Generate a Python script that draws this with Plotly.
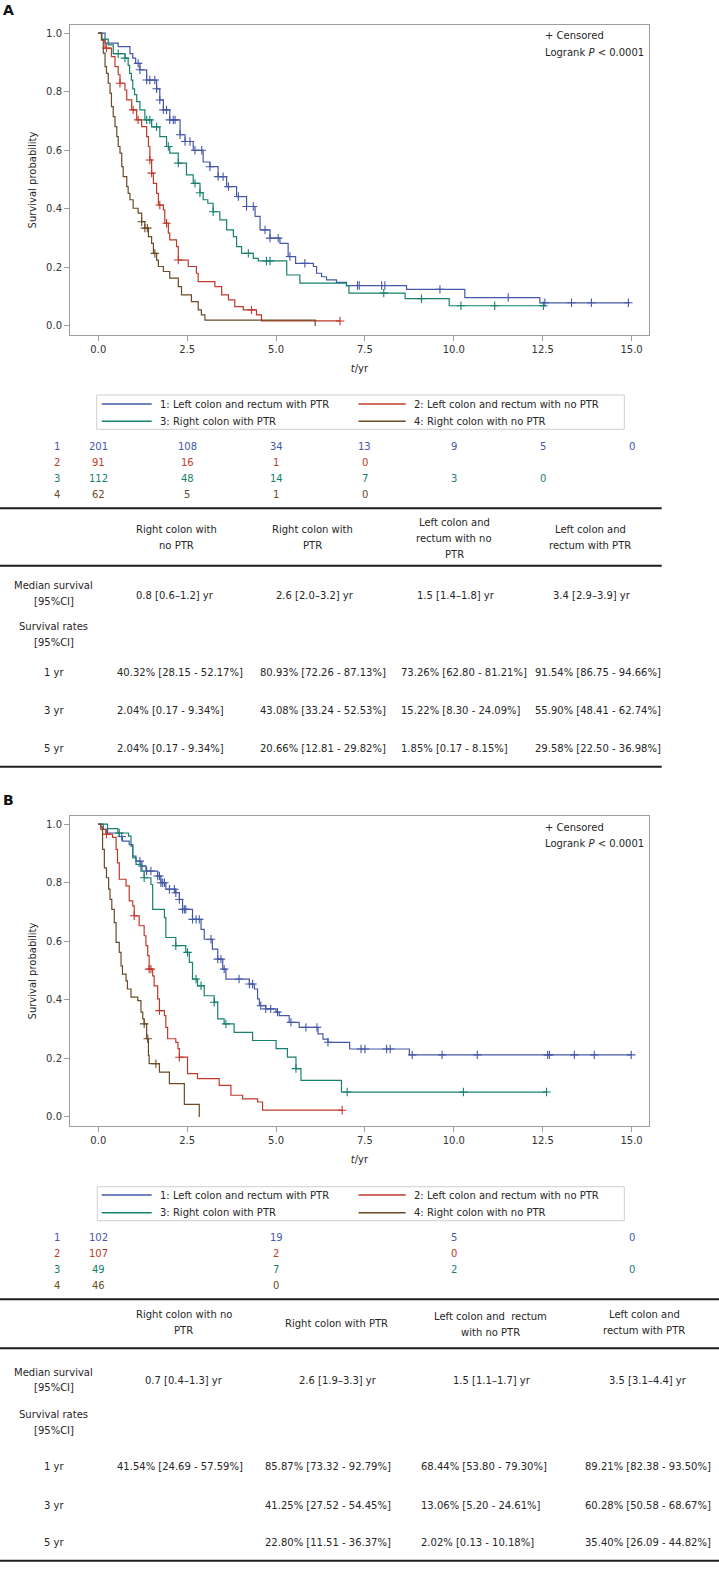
import plotly.graph_objects as go

W, H = 719, 1575
FONT = "DejaVu Sans"
TXT = "#262626"

C_BLUE, C_RED, C_TEAL, C_BROWN = "#4558a8", "#c0392b", "#17806f", "#6b4a26"
COLORS = [C_BLUE, C_RED, C_TEAL, C_BROWN]
GROUP_NAMES = ["1: Left colon and rectum with PTR", "2: Left colon and rectum with no PTR",
               "3: Right colon with PTR", "4: Right colon with no PTR"]
X_TICKS = [0, 2.5, 5, 7.5, 10, 12.5, 15]

# ---------------- Panel A data ----------------
A1_t = [0.19, 0.56, 0.89, 0.97, 1.05, 1.17, 1.36, 1.64, 1.73, 1.83, 2.01, 2.30, 2.44, 2.67, 2.95, 3.14, 3.37,
        3.61, 3.89, 4.17, 4.41, 4.55, 4.83, 5.11, 5.34, 5.55, 6.05, 6.14, 6.28, 6.42, 6.70, 6.98, 8.67, 10.31, 12.42]
A1_s = [0.966, 0.954, 0.930, 0.915, 0.897, 0.875, 0.840, 0.810, 0.772, 0.738, 0.704, 0.653, 0.630, 0.600, 0.560,
        0.544, 0.510, 0.476, 0.442, 0.408, 0.374, 0.328, 0.300, 0.282, 0.237, 0.214, 0.203, 0.180, 0.168, 0.157,
        0.149, 0.138, 0.125, 0.097, 0.079]
A1_end = 14.95
A1_cens = [1.12, 1.17, 1.36, 1.45, 1.59, 1.64, 1.73, 1.83, 1.92, 2.01, 2.11, 2.16, 2.30, 2.44, 2.58, 2.72, 2.91,
           3.14, 3.37, 3.51, 3.66, 3.94, 4.17, 4.36, 4.69, 4.83, 5.06, 5.39, 5.81, 7.29, 7.34, 7.97, 8.06, 9.61,
           11.53, 12.56, 13.31, 13.87, 14.91]

A2_t = [0.09, 0.19, 0.37, 0.47, 0.56, 0.61, 0.75, 0.80, 0.94, 1.08, 1.22, 1.36, 1.41, 1.45, 1.50, 1.55, 1.64,
        1.69, 1.83, 1.87, 1.97, 2.01, 2.20, 2.25, 2.53, 2.76, 2.81, 3.28, 3.47, 3.66, 3.84, 4.08, 4.45, 4.59]
A2_s = [0.977, 0.949, 0.920, 0.886, 0.858, 0.829, 0.806, 0.772, 0.738, 0.704, 0.681, 0.647, 0.613, 0.567, 0.522,
        0.487, 0.453, 0.413, 0.396, 0.351, 0.317, 0.294, 0.271, 0.225, 0.203, 0.180, 0.151, 0.134, 0.106, 0.089,
        0.066, 0.055, 0.038, 0.017]
A2_end = 6.8
A2_cens = [0.23, 0.61, 0.98, 1.12, 1.45, 1.50, 1.73, 1.92, 2.25, 4.31, 6.8]

A3_t = [0.10, 0.28, 0.42, 0.75, 0.84, 0.88, 0.93, 0.97, 1.02, 1.08, 1.17, 1.31, 1.50, 1.73, 1.92, 2.01, 2.25,
        2.48, 2.67, 2.86, 2.95, 3.08, 3.23, 3.42, 3.61, 3.80, 3.89, 4.03, 4.36, 4.50, 5.30, 5.67, 6.98, 7.05,
        8.63, 9.87]
A3_s = [0.980, 0.960, 0.930, 0.915, 0.890, 0.863, 0.840, 0.810, 0.790, 0.766, 0.738, 0.704, 0.680, 0.647, 0.613,
        0.590, 0.556, 0.516, 0.487, 0.455, 0.431, 0.419, 0.390, 0.362, 0.328, 0.305, 0.271, 0.248, 0.231, 0.222,
        0.174, 0.146, 0.138, 0.112, 0.093, 0.069]
A3_end = 12.52
A3_cens = [0.56, 0.75, 1.36, 1.45, 1.64, 1.97, 2.25, 2.72, 2.86, 3.23, 4.22, 4.73, 4.83, 8.03, 9.09, 10.20,
           11.15, 12.52]

A4_t = [0.09, 0.14, 0.19, 0.23, 0.28, 0.33, 0.37, 0.42, 0.47, 0.52, 0.56, 0.61, 0.66, 0.70, 0.80, 0.84, 0.89,
        0.98, 1.12, 1.22, 1.31, 1.41, 1.50, 1.55, 1.64, 1.69, 1.83, 2.01, 2.25, 2.34, 2.62, 2.81, 2.90, 3.00, 6.10]
A4_s = [0.977, 0.932, 0.886, 0.863, 0.829, 0.795, 0.749, 0.715, 0.681, 0.647, 0.613, 0.590, 0.544, 0.510, 0.476,
        0.453, 0.431, 0.402, 0.385, 0.356, 0.334, 0.305, 0.282, 0.248, 0.225, 0.203, 0.186, 0.163, 0.134, 0.106,
        0.083, 0.055, 0.038, 0.020, 0.0]
A4_end = 6.10
A4_cens = [1.22, 1.31, 1.38, 1.59]

RISK_T_A = [0, 2.5, 5, 7.5, 10, 12.5, 15]
RISK_A1 = [201, 108, 34, 13, 9, 5, 0]
RISK_A2 = [91, 16, 1, 0]
RISK_A3 = [112, 48, 14, 7, 3, 0]
RISK_A4 = [62, 5, 1, 0]

HEAD_A = [["Right colon with", "no PTR"], ["Right colon with", "PTR"],
          ["Left colon and", "rectum with no", "PTR"], ["Left colon and", "rectum with PTR"]]
MED_A = ["0.8 [0.6–1.2] yr", "2.6 [2.0–3.2] yr", "1.5 [1.4–1.8] yr", "3.4 [2.9–3.9] yr"]
Y1_A = ["40.32% [28.15 - 52.17%]", "80.93% [72.26 - 87.13%]", "73.26% [62.80 - 81.21%]", "91.54% [86.75 - 94.66%]"]
Y3_A = ["2.04% [0.17 - 9.34%]", "43.08% [33.24 - 52.53%]", "15.22% [8.30 - 24.09%]", "55.90% [48.41 - 62.74%]"]
Y5_A = ["2.04% [0.17 - 9.34%]", "20.66% [12.81 - 29.82%]", "1.85% [0.17 - 8.15%]", "29.58% [22.50 - 36.98%]"]

# ---------------- Panel B data ----------------
B1_t = [0.14, 0.26, 0.59, 0.68, 0.87, 0.97, 1.06, 1.20, 1.34, 1.67, 1.76, 1.90, 2.18, 2.28, 2.37, 2.65, 2.89,
        2.98, 3.21, 3.36, 3.50, 3.59, 4.25, 4.39, 4.48, 4.53, 4.71, 5.00, 5.09, 5.37, 5.65, 6.18, 6.32, 6.46, 7.07,
        8.75]
B1_s = [0.982, 0.970, 0.958, 0.942, 0.930, 0.891, 0.874, 0.857, 0.840, 0.823, 0.800, 0.778, 0.766, 0.743, 0.709,
        0.675, 0.641, 0.607, 0.573, 0.539, 0.505, 0.471, 0.454, 0.437, 0.403, 0.380, 0.369, 0.358, 0.346, 0.323,
        0.306, 0.284, 0.266, 0.255, 0.232, 0.212]
B1_end = 14.99
B1_cens = [0.66, 1.17, 1.23, 1.36, 1.48, 1.67, 1.72, 1.76, 1.81, 1.86, 2.00, 2.14, 2.18, 2.28, 2.37, 2.42, 2.46,
           2.65, 2.75, 2.84, 3.17, 3.36, 3.45, 3.54, 3.96, 4.25, 4.34, 4.57, 4.71, 4.85, 5.04, 5.42, 5.84, 6.15,
           6.46, 7.39, 7.50, 8.11, 8.21, 8.83, 9.67, 10.66, 12.64, 12.69, 13.39, 13.95, 14.99]

B2_t = [0.07, 0.21, 0.40, 0.50, 0.54, 0.59, 0.78, 0.87, 0.97, 1.01, 1.15, 1.29, 1.34, 1.39, 1.43, 1.53, 1.57,
        1.67, 1.72, 1.86, 1.90, 1.95, 2.18, 2.24, 2.28, 2.51, 2.79, 3.40, 3.73, 4.06, 4.48, 4.62]
B2_s = [0.982, 0.966, 0.955, 0.914, 0.868, 0.812, 0.789, 0.738, 0.721, 0.687, 0.653, 0.619, 0.585, 0.551, 0.505,
        0.482, 0.448, 0.403, 0.363, 0.346, 0.306, 0.267, 0.255, 0.233, 0.204, 0.148, 0.131, 0.108, 0.074, 0.062,
        0.051, 0.023]
B2_end = 6.86
B2_cens = [0.23, 1.01, 1.43, 1.48, 1.72, 2.28, 6.86]

B3_t = [0.26, 0.55, 0.85, 0.92, 0.97, 1.06, 1.20, 1.29, 1.48, 1.53, 1.86, 1.90, 2.18, 2.46, 2.56, 2.65, 2.79,
        2.98, 3.26, 3.36, 3.54, 3.82, 4.34, 5.00, 5.32, 5.56, 5.70, 6.84]
B3_s = [0.985, 0.970, 0.959, 0.925, 0.885, 0.863, 0.840, 0.817, 0.794, 0.709, 0.681, 0.613, 0.585, 0.562, 0.528,
        0.471, 0.448, 0.414, 0.392, 0.335, 0.318, 0.289, 0.261, 0.233, 0.204, 0.165, 0.125, 0.085]
B3_end = 12.61
B3_cens = [0.59, 1.29, 2.18, 2.51, 2.75, 2.89, 3.26, 3.59, 5.56, 7.00, 10.27, 12.61]

B4_t = [0.07, 0.12, 0.17, 0.23, 0.29, 0.33, 0.38, 0.45, 0.50, 0.59, 0.64, 0.68, 0.78, 0.82, 0.92, 1.11, 1.20,
        1.25, 1.29, 1.36, 1.41, 1.43, 1.72, 2.00, 2.42, 2.84]
B4_s = [0.990, 0.914, 0.851, 0.817, 0.778, 0.743, 0.709, 0.664, 0.596, 0.562, 0.516, 0.488, 0.465, 0.437, 0.409,
        0.397, 0.358, 0.335, 0.318, 0.267, 0.210, 0.182, 0.153, 0.114, 0.043, 0.0]
B4_end = 2.84
B4_cens = [1.29, 1.39, 1.62]

RISK_T_B = [0, 5, 10, 15]
RISK_B1 = [102, 19, 5, 0]
RISK_B2 = [107, 2, 0]
RISK_B3 = [49, 7, 2, 0]
RISK_B4 = [46, 0]

HEAD_B = [["Right colon with no", "PTR"], ["Right colon with PTR"],
          ["Left colon and  rectum", "with no PTR"], ["Left colon and", "rectum with PTR"]]
MED_B = ["0.7 [0.4–1.3] yr", "2.6 [1.9–3.3] yr", "1.5 [1.1–1.7] yr", "3.5 [3.1–4.4] yr"]
Y1_B = ["41.54% [24.69 - 57.59%]", "85.87% [73.32 - 92.79%]", "68.44% [53.80 - 79.30%]", "89.21% [82.38 - 93.50%]"]
Y3_B = ["", "41.25% [27.52 - 54.45%]", "13.06% [5.20 - 24.61%]", "60.28% [50.58 - 68.67%]"]
Y5_B = ["", "22.80% [11.51 - 36.37%]", "2.02% [0.13 - 10.18%]", "35.40% [26.09 - 44.82%]"]


# ---------------- helpers ----------------
def px(x):
    return x / W


def py(y):
    return 1 - y / H


def surv_at(times, surv, t):
    s = 1.0
    for ti, si in zip(times, surv):
        if ti <= t:
            s = si
        else:
            break
    return s


fig = go.Figure()
annotations = []
shapes = []


def ann(x, y, text, xanchor="center", size=10, color=TXT, xref="paper", bold=False):
    annotations.append(dict(
        x=x if xref != "paper" else px(x), y=py(y), xref=xref, yref="paper",
        text=("<b>%s</b>" % text) if bold else text, showarrow=False,
        xanchor=xanchor, yanchor="middle",
        font=dict(family=FONT, size=size, color=color)))


def add_curves(groups, xa, ya):
    for (t, s, end, cens), col, name in zip(groups, COLORS, GROUP_NAMES):
        xs = [0] + list(t) + [end]
        ys = [1.0] + list(s) + [s[-1]]
        fig.add_trace(go.Scatter(x=xs, y=ys, mode="lines", line=dict(color=col, width=1.2, shape="hv"),
                                 name=name, xaxis=xa, yaxis=ya, showlegend=False, hoverinfo="skip"))
        fig.add_trace(go.Scatter(x=cens, y=[surv_at(t, s, c) for c in cens], mode="markers",
                                 marker=dict(symbol="cross-thin", size=6, line=dict(color=col, width=1.1)),
                                 xaxis=xa, yaxis=ya, showlegend=False, hoverinfo="skip", name=name + " censored"))


def add_legend(top, bottom, left, right, rows):
    shapes.append(dict(type="rect", xref="paper", yref="paper", x0=px(left), x1=px(right), y0=py(bottom),
                       y1=py(top), line=dict(color="#cfcfcf", width=1)))
    cols = [(101.7, 151.7, 158.3), (358.5, 405.7, 411.7)]
    for i, (name, col) in enumerate(zip(GROUP_NAMES, COLORS)):
        c0, c1, tx = cols[i % 2]
        yy = rows[i // 2]
        shapes.append(dict(type="line", xref="paper", yref="paper", x0=px(c0), x1=px(c1), y0=py(yy), y1=py(yy),
                           line=dict(color=col, width=1.4)))
        ann(tx, yy, name, xanchor="left")


def add_risk(times_list, rows_vals, rows_y, xref):
    for i, (vals, col) in enumerate(zip(rows_vals, COLORS)):
        ann(56.7, rows_y[i], str(i + 1), color=col)
        for tt, v in zip(times_list, vals):
            ann(tt, rows_y[i], str(v), color=col, xref=xref)


def hline(y, x0, x1, w=2):
    shapes.append(dict(type="line", xref="paper", yref="paper", x0=px(x0), x1=px(x1), y0=py(y), y1=py(y),
                       line=dict(color="#1e1e1e", width=w)))


def add_table(lines, heads, head_x, head_ys, med, med_x, y1, y3, y5, val_x, ry, lab_y):
    hline(lines[0], 0, lines[3])
    hline(lines[1], 0, lines[3])
    hline(lines[2], 0, lines[3])
    for h, hx, hys in zip(heads, head_x, head_ys):
        for txt, yy in zip(h, hys):
            ann(hx, yy, txt)
    ann(53.5, lab_y[0], "Median survival")
    ann(53.5, lab_y[1], "[95%CI]")
    ann(53.5, lab_y[2], "Survival rates")
    ann(53.5, lab_y[3], "[95%CI]")
    for txt, mx in zip(med, med_x):
        ann(mx, ry[0], txt)
    for lab, vals, yy in zip(["1 yr", "3 yr", "5 yr"], [y1, y3, y5], ry[1:]):
        ann(53.5, yy, lab)
        for txt, vx in zip(vals, val_x):
            if txt:
                ann(vx, yy, txt, xanchor="left")


# ---------------- Panel A ----------------
add_curves([(A1_t, A1_s, A1_end, A1_cens), (A2_t, A2_s, A2_end, A2_cens),
            (A3_t, A3_s, A3_end, A3_cens), (A4_t, A4_s, A4_end, A4_cens)], "x", "y")
ann(1, 10, "A", xanchor="left", size=14, color="#111", bold=True)
ann(543, 35.7, "+ Censored", xanchor="left")
ann(543, 52.3, "Logrank <i>P</i> &lt; 0.0001", xanchor="left")
add_legend(395, 429.3, 96.7, 624.3, [404, 421.3])
add_risk(RISK_T_A, [RISK_A1, RISK_A2, RISK_A3, RISK_A4], [446.7, 462.7, 478.3, 494.3], "x")
add_table([508.3, 565.7, 766.7, 661.7], HEAD_A, [176, 312.3, 454.3, 590],
          [[529.3, 545], [529.3, 545], [522.7, 538.7, 554.3], [529.3, 545]],
          MED_A, [175.3, 315.3, 456, 592.3], Y1_A, Y3_A, Y5_A, [114.5, 258, 398.5, 532.5],
          [595.7, 672.7, 710.7, 748.3], [585.7, 601, 626.7, 642.3])

# ---------------- Panel B ----------------
add_curves([(B1_t, B1_s, B1_end, B1_cens), (B2_t, B2_s, B2_end, B2_cens),
            (B3_t, B3_s, B3_end, B3_cens), (B4_t, B4_s, B4_end, B4_cens)], "x2", "y2")
ann(1, 800, "B", xanchor="left", size=14, color="#111", bold=True)
ann(543, 827.3, "+ Censored", xanchor="left")
ann(543, 844, "Logrank <i>P</i> &lt; 0.0001", xanchor="left")
add_legend(1186.7, 1220.7, 97.3, 624.3, [1195, 1212.7])
add_risk(RISK_T_B, [RISK_B1, RISK_B2, RISK_B3, RISK_B4], [1237.7, 1253.7, 1269.7, 1285.3], "x2")
add_table([1299.3, 1348.3, 1560.7, 719], HEAD_B, [183.7, 336, 490, 644.3],
          [[1314.3, 1330], [1323.3], [1316.7, 1332.3], [1314.3, 1330]],
          MED_B, [183.7, 337.5, 491.7, 648.3], Y1_B, Y3_B, Y5_B, [115.2, 263, 419.2, 583.2],
          [1380.3, 1466.7, 1505, 1542.7], [1372, 1387.7, 1414.3, 1430])

# ---------------- axes ----------------
tickfont = dict(family=FONT, size=10, color="#333")
XR = [-0.796, 15.49]
YR = [-0.031, 1.028]


def xaxis(domain, anchor):
    return dict(domain=domain, anchor=anchor, range=XR, tickvals=X_TICKS, tickformat=".1f",
                showline=True, mirror=True, linecolor="#9d9d9d", linewidth=1, ticks="outside", ticklen=5,
                tickcolor="#9d9d9d", showgrid=False, zeroline=False, tickfont=tickfont,
                title=dict(text="<i>t</i>/yr", font=dict(family=FONT, size=10, color=TXT), standoff=10))


def yaxis(domain, anchor):
    return dict(domain=domain, anchor=anchor, range=YR, tickvals=[0, 0.2, 0.4, 0.6, 0.8, 1.0], tickformat=".1f",
                showline=True, mirror=True, linecolor="#9d9d9d", linewidth=1, ticks="outside", ticklen=5,
                tickcolor="#9d9d9d", showgrid=False, zeroline=False, tickfont=tickfont,
                title=dict(text="Survival probability", font=dict(family=FONT, size=10, color=TXT), standoff=7))


fig.update_layout(
    width=W, height=H, margin=dict(l=0, r=0, t=0, b=0),
    paper_bgcolor="white", plot_bgcolor="white", showlegend=False,
    xaxis=xaxis([px(70), px(649)], "y"), yaxis=yaxis([py(335), py(25)], "x"),
    xaxis2=xaxis([px(70), px(649)], "y2"), yaxis2=yaxis([py(1126), py(816)], "x2"),
    annotations=annotations, shapes=shapes,
)

fig.write_html("out.html", config={"displayModeBar": False},
               post_script="document.body.style.margin='0';")
